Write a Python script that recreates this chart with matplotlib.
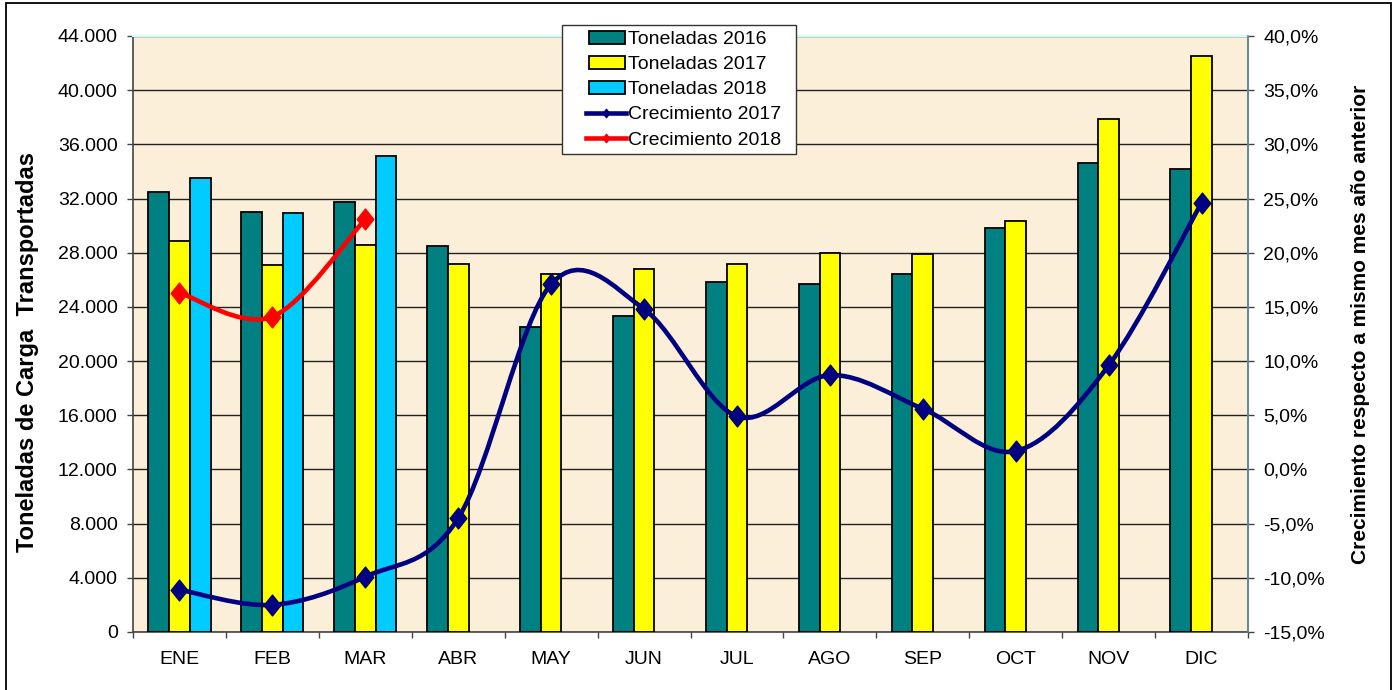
import numpy as np
import matplotlib
matplotlib.use("Agg")
import matplotlib.pyplot as plt
from matplotlib.path import Path
from matplotlib.patches import PathPatch, Patch, Rectangle
from matplotlib.lines import Line2D
from matplotlib.ticker import FixedLocator, FuncFormatter
from matplotlib.legend_handler import HandlerPatch, HandlerLine2D

plt.rcParams['font.family'] = ['Liberation Sans', 'DejaVu Sans']

months = ["ENE", "FEB", "MAR", "ABR", "MAY", "JUN", "JUL", "AGO", "SEP", "OCT", "NOV", "DIC"]
ton_2016 = [32460, 30990, 31720, 28500, 22540, 23350, 25860, 25690, 26450, 29830, 34600, 34180]
ton_2017 = [28840, 27100, 28600, 27200, 26400, 26780, 27170, 28000, 27900, 30320, 37900, 42500]
ton_2018 = [33540, 30910, 35170, np.nan, np.nan, np.nan, np.nan, np.nan, np.nan, np.nan, np.nan, np.nan]
crec_2017 = [-11.1, -12.5, -9.9, -4.5, 17.1, 14.8, 4.9, 8.7, 5.6, 1.7, 9.6, 24.6]
crec_2018 = [16.3, 14.1, 23.1]

left_ticks = list(range(0, 44001, 4000))
right_ticks = list(range(-15, 41, 5))

W, H = 1395, 690
fig = plt.figure(figsize=(W / 100, H / 100), dpi=100)
fig.patch.set_facecolor('white')

# outer frame
fig.add_artist(Rectangle((6 / W, -0.01), (1391 - 6) / W, (H - 3) / H + 0.01,
                         transform=fig.transFigure, fill=False, edgecolor='black', linewidth=1.3))

ax = fig.add_axes([133 / W, 1 - 632 / H, (1248 - 133) / W, (632 - 36) / H])
ax.set_facecolor('#FCEFD9')

n = len(months)
x = np.arange(n)
bw = 0.223
ec = 'black'
lw = 1.3
ax.bar(x - bw, ton_2016, bw, color='#008080', edgecolor=ec, linewidth=lw, zorder=3)
ax.bar(x, ton_2017, bw, color='#FFFF00', edgecolor=ec, linewidth=lw, zorder=3)
ax.bar(x + bw, ton_2018, bw, color='#00CCFF', edgecolor=ec, linewidth=lw, zorder=3)

ax.set_xlim(-0.5, n - 0.5)
ax.set_ylim(0, 44000)
ax.yaxis.set_major_locator(FixedLocator(left_ticks))
ax.yaxis.set_major_formatter(FuncFormatter(lambda v, p: f"{int(v):,}".replace(",", ".")))
ax.grid(axis='y', color='#222222', linewidth=1.0, zorder=1)
ax.set_axisbelow(True)

ax.xaxis.set_major_locator(FixedLocator(np.arange(-0.5, n, 1.0)))
ax.xaxis.set_major_formatter(FuncFormatter(lambda v, p: ""))
ax.set_xticks(x, minor=True)
ax.set_xticklabels(months, minor=True)
ax.tick_params(axis='x', which='major', length=4, width=1, color='#444444')
ax.tick_params(axis='x', which='minor', length=0, labelsize=14, pad=14)
ax.tick_params(axis='y', length=4, width=1, color='#444444', labelsize=14, pad=7)

for s in ['left', 'bottom']:
    ax.spines[s].set_color('#444444')
    ax.spines[s].set_linewidth(1.2)
ax.spines['top'].set_color('#CCFFFF')
ax.spines['top'].set_linewidth(1.5)
ax.spines['right'].set_color('#5F8A8B')
ax.spines['right'].set_linewidth(1.2)

ax2 = ax.twinx()
ax2.set_ylim(-15, 40)
ax2.yaxis.set_major_locator(FixedLocator(right_ticks))
ax2.yaxis.set_major_formatter(FuncFormatter(lambda v, p: f"{v:.1f}%".replace(".", ",")))
ax2.tick_params(axis='y', length=4, width=1, color='#444444', labelsize=14, pad=7)
for s in ['left', 'bottom', 'top']:
    ax2.spines[s].set_visible(False)
ax2.spines['right'].set_color('#5F8A8B')
ax2.spines['right'].set_linewidth(1.2)

fig.text(28 / W, 1 - 352 / H, "Toneladas de Carga  Transportadas", rotation=90,
         ha='center', va='center', fontsize=17, fontweight='bold')
fig.text(1360 / W, 1 - 324 / H, "Crecimiento respecto a mismo mes año anterior", rotation=90,
         ha='center', va='center', fontsize=15, fontweight='bold')


def smooth_path(xs, ys):
    xs = np.asarray(xs, float)
    ys = np.asarray(ys, float)
    pts = np.column_stack([xs, ys])
    verts = [tuple(pts[0])]
    codes = [Path.MOVETO]
    m = len(pts)
    for i in range(m - 1):
        p0 = pts[i - 1] if i > 0 else pts[i]
        p1 = pts[i]
        p2 = pts[i + 1]
        p3 = pts[i + 2] if i + 2 < m else pts[i + 1]
        c1 = p1 + (p2 - p0) / 6.0
        c2 = p2 - (p3 - p1) / 6.0
        verts += [tuple(c1), tuple(c2), tuple(p2)]
        codes += [Path.CURVE4] * 3
    return Path(verts, codes)


diamond = Path([(0, 1), (0.8, 0), (0, -1), (-0.8, 0), (0, 1)],
               [Path.MOVETO, Path.LINETO, Path.LINETO, Path.LINETO, Path.CLOSEPOLY])

for xs, ys, col in [(x, crec_2017, '#000080'), (x[:len(crec_2018)], crec_2018, '#FF0000')]:
    ax2.add_patch(PathPatch(smooth_path(xs, ys), facecolor='none', edgecolor=col,
                            linewidth=3.3, zorder=5, capstyle='round', joinstyle='round'))
    ax2.plot(xs, ys, linestyle='none', marker=diamond, markersize=15, color=col, zorder=6)

ax.set_zorder(1)
ax2.set_zorder(2)
ax2.patch.set_visible(False)

OFF = 15.0


def offset_rect(legend, orig_handle, xdescent, ydescent, width, height, fontsize):
    return Rectangle((-xdescent + OFF, -ydescent), width - OFF - 1, height)


class OffsetLineHandler(HandlerLine2D):
    def create_artists(self, legend, orig_handle, xdescent, ydescent, width, height, fontsize, trans):
        arts = super().create_artists(legend, orig_handle, xdescent, ydescent, width, height, fontsize, trans)
        for a in arts:
            xd = np.asarray(a.get_xdata(), float)
            x0 = -xdescent
            a.set_xdata(x0 + OFF - 2 + (xd - x0) * (width - OFF + 2) / width)
        return arts


handles = [
    Patch(facecolor='#008080', edgecolor='black', linewidth=1.3, label='Toneladas 2016'),
    Patch(facecolor='#FFFF00', edgecolor='black', linewidth=1.3, label='Toneladas 2017'),
    Patch(facecolor='#00CCFF', edgecolor='black', linewidth=1.3, label='Toneladas 2018'),
    Line2D([], [], color='#000080', linewidth=3.3, marker=diamond, markersize=6, label='Crecimiento 2017'),
    Line2D([], [], color='#FF0000', linewidth=3.3, marker=diamond, markersize=6, label='Crecimiento 2018'),
]
hmap = {h: (HandlerPatch(patch_func=offset_rect) if isinstance(h, Patch) else OffsetLineHandler())
        for h in handles}
leg = fig.legend(handles=handles, handler_map=hmap, loc='upper left',
                 bbox_to_anchor=(562 / W, 1 - 155 / H, 234 / W, 130 / H), mode='expand',
                 fontsize=14, frameon=True, fancybox=False, framealpha=1, edgecolor='#333333',
                 handlelength=3.0, handleheight=0.65, handletextpad=0.1, labelspacing=0.4,
                 borderpad=0.3, borderaxespad=0)
leg.get_frame().set_linewidth(1.0)
leg.set_zorder(10)

fig.savefig("out.png", dpi=100, facecolor='white')
